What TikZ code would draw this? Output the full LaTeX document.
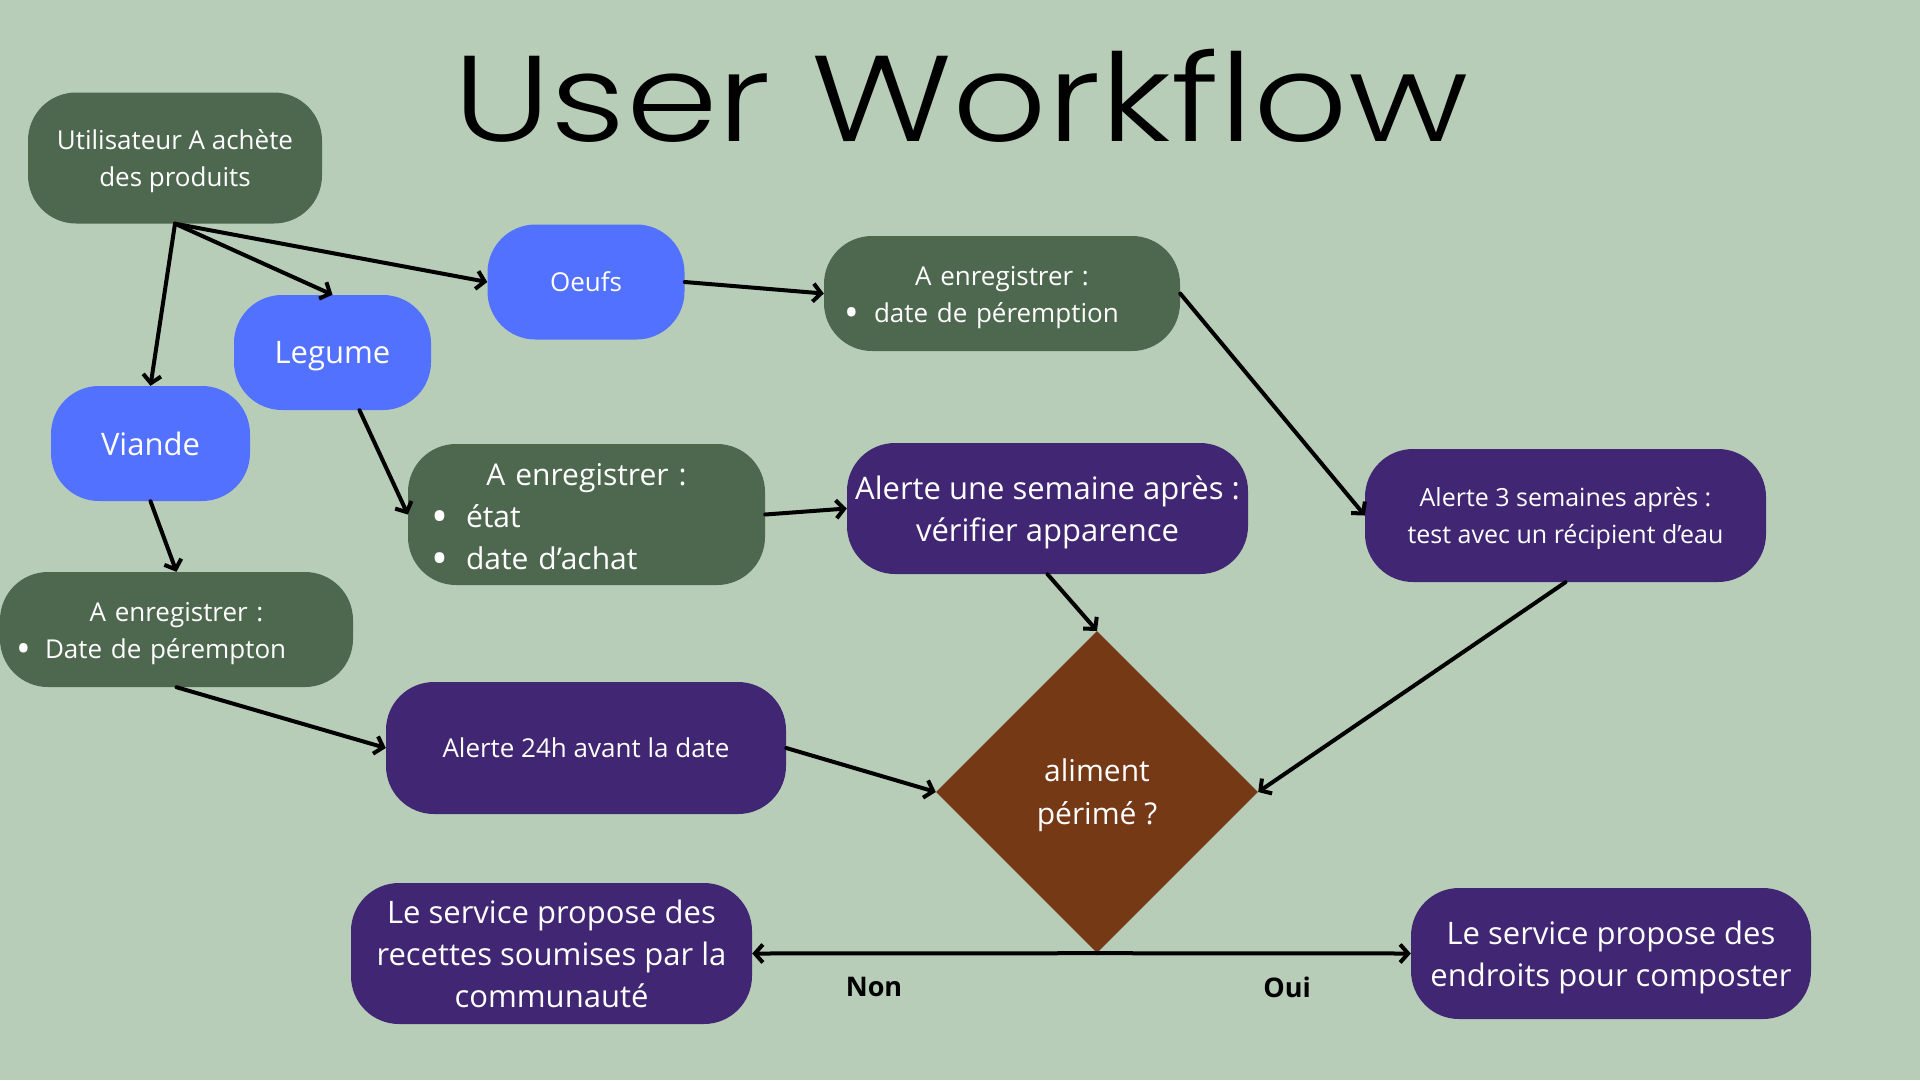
\documentclass[tikz,border=0pt]{standalone}
\usepackage{fontspec}
\usepackage{graphicx}
\setmainfont{Open Sans}
\IfFontExistsTF{Poppins Light}
  {\newfontfamily\titlefont{Poppins Light}[FakeStretch=1.21]}
  {\newfontfamily\titlefont{Poppins}[FakeStretch=1.21]}
\usetikzlibrary{arrows.meta,shapes.geometric,calc}
\definecolor{bg}{HTML}{B7CDB7}
\definecolor{dgreen}{HTML}{4E6850}
\definecolor{pblue}{HTML}{5271FF}
\definecolor{ppurple}{HTML}{412773}
\definecolor{pbrown}{HTML}{763916}
\newcommand\fsz[2]{\fontsize{#1}{#2}\selectfont}
\newcommand\bigbullet{\raisebox{-0.15em}{\scalebox{1.5}{\textbullet}}}
\newcommand\bline[3]{\hspace*{#1pt}\makebox[0pt]{\bigbullet}\hspace*{#2pt}#3}
\newcommand\lowerlist{\par\vspace*{-9pt}}
\tikzset{
  box/.style={rounded corners=48pt, inner sep=0pt, text=white, align=center, text depth=0pt},
  greenbox/.style={box, fill=dgreen},
  bluebox/.style={box, fill=pblue},
  purplebox/.style={box, fill=ppurple},
  listbox/.style={greenbox, align=left, text depth={}},
  decision/.style={shape=diamond, aspect=1, fill=pbrown, inner sep=0pt, text=white, align=center, text depth=0pt},
  conn/.style={line width=4pt, line cap=round, -{Straight Barb[length=8pt,width=18pt]}},
  lbl/.style={font=\bfseries\fsz{27}{30}, text=black, inner sep=0pt},
  titlestyle/.style={font=\titlefont\fsz{122}{122}, text=black, inner sep=0pt, anchor=base}
}
\begin{document}
\begin{tikzpicture}[x=1pt,y=-1pt]
\fill[bg] (0,0) rectangle (1920,1080);
\useasboundingbox (0,0) rectangle (1920,1080);

\node[titlestyle] (title) at (961,141) {User Workflow};

\node[greenbox, minimum width=294pt, minimum height=131pt, font=\fsz{26}{37}] (buy) at (175,158) {Utilisateur A achète\\des produits};
\node[bluebox, minimum width=197pt, minimum height=115pt, font=\fsz{26}{37}] (oeufs) at (586,282) {Oeufs};
\node[bluebox, minimum width=197pt, minimum height=115pt, font=\fsz{31}{40}] (legume) at (332.5,352.5) {Legume};
\node[bluebox, minimum width=199pt, minimum height=115pt, font=\fsz{31}{40}] (viande) at (150.5,443.5) {Viande};

\node[listbox, minimum width=356pt, minimum height=115pt, text width=356pt, font=\fsz{26}{37}] (regoeufs) at (1002,293.5)
  {{\centering A enregistrer :\par}\bline{28}{22}{date de péremption}\lowerlist};
\node[listbox, minimum width=357pt, minimum height=141pt, text width=357pt, font=\fsz{30}{42}] (reglegume) at (586.5,514.5)
  {{\centering A enregistrer :\par}\bline{32}{26}{état}\par\bline{32}{26}{date d’achat}\lowerlist};
\node[listbox, minimum width=353pt, minimum height=115pt, text width=353pt, font=\fsz{26}{37}] (regviande) at (176.5,629.5)
  {{\centering A enregistrer :\par}\bline{24}{21}{Date de pérempton}\lowerlist};

\node[purplebox, minimum width=401pt, minimum height=131pt, font=\fsz{31}{42}] (semaine) at (1047.5,508.5) {Alerte une semaine après :\\vérifier apparence};
\node[purplebox, minimum width=401pt, minimum height=133pt, font=\fsz{25}{37}] (trois) at (1565.5,515.5) {Alerte 3 semaines après :\\test avec un récipient d’eau};
\node[purplebox, minimum width=400pt, minimum height=132pt, font=\fsz{26}{37}] (veille) at (586,748) {Alerte 24h avant la date};

\node[decision, minimum width=322pt, minimum height=322pt, font=\fsz{30}{43}] (perime) at (1097,792) {aliment\\périmé ?};

\node[purplebox, minimum width=401pt, minimum height=141pt, font=\fsz{31}{42}] (recettes) at (551.5,953.5) {Le service propose des\\recettes soumises par la\\communauté};
\node[purplebox, minimum width=400pt, minimum height=131pt, font=\fsz{31}{42}] (compost) at (1611,953.5) {Le service propose des\\endroits pour composter};

\node[lbl] (non) at (874,987) {Non};
\node[lbl] (oui) at (1287,987) {Oui};

\draw[conn] (buy.south) -- (oeufs.west);
\draw[conn] (buy.south) -- (legume.north);
\draw[conn] (buy.south) -- (viande.north);
\draw[conn] (oeufs.east) -- (regoeufs.west);
\draw[conn] ($(legume.south)+(27,0)$) -- (reglegume.west);
\draw[conn] (viande.south) -- (regviande.north);
\draw[conn] (reglegume.east) -- (semaine.west);
\draw[conn] (regoeufs.east) -- (trois.west);
\draw[conn] (regviande.south) -- (veille.west);
\draw[conn] (veille.east) -- (perime.west);
\draw[conn] (semaine.south) -- (perime.north);
\draw[conn] (trois.south) -- (perime.east);
\draw[conn] (perime.south) -- (recettes.east);
\draw[conn] (perime.south) -- (compost.west);
\end{tikzpicture}
\end{document}
